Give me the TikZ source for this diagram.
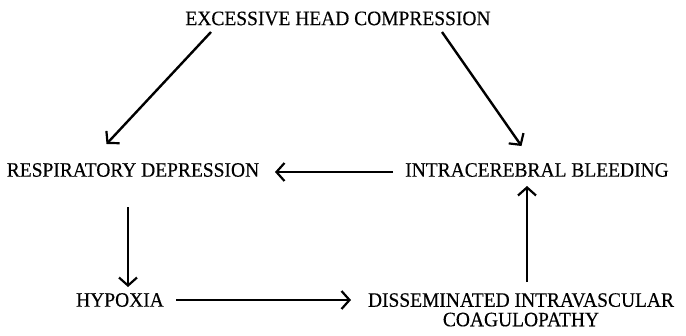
\documentclass[tikz,border=0pt]{standalone}
\usepackage{fontspec}
\setmainfont[FakeStretch=0.95,FakeBold=0.3]{Liberation Serif}
\usetikzlibrary{arrows.meta}
\begin{document}
\begin{tikzpicture}[x=1pt,y=-1pt,
  lbl/.style={inner sep=0pt,font=\fontsize{20.5}{19.5}\selectfont,align=center},
  arr/.style={line width=2.4pt,-{Straight Barb[length=8pt,width=18pt,line width=2.2pt]}}]
\useasboundingbox (0,0) rectangle (686,335);
\node[lbl] (ehc) at (338,18.5) {EXCESSIVE HEAD COMPRESSION};
\node[lbl] (rd) at (133,170) {RESPIRATORY DEPRESSION};
\node[lbl] (ib) at (537,170) {INTRACEREBRAL BLEEDING};
\node[lbl] (hy) at (120,300) {HYPOXIA};
\node[lbl,anchor=north] (dic) at (521,293) {DISSEMINATED INTRAVASCULAR\\COAGULOPATHY};
\coordinate (a1s) at (211,32);
\coordinate (a1e) at (106.5,144);
\coordinate (a2s) at (442,32);
\coordinate (a2e) at (521.5,146);
\draw[arr] (a1s) -- (a1e);
\draw[arr] (a2s) -- (a2e);
\draw[arr] (ib.west) ++(-12,2) -- (275,172);
\draw[arr] (128,207) -- (128,287);
\draw[arr] (176,300) -- (351,300);
\draw[arr] (527,282) -- (527,186);
\end{tikzpicture}
\end{document}
